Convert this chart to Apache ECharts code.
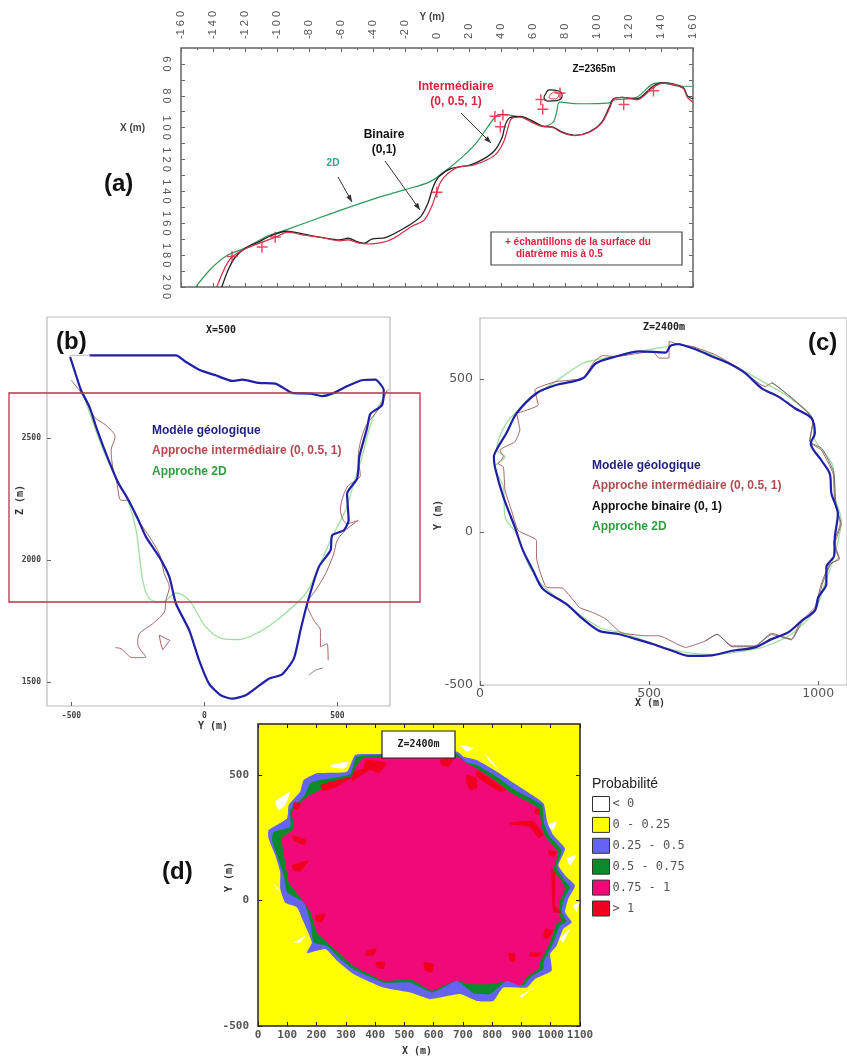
<!DOCTYPE html>
<html><head><meta charset="utf-8">
<style>html,body{margin:0;padding:0;background:#fff}#c{width:847px;height:1060px}</style>
<script src="https://cdn.jsdelivr.net/npm/echarts@6/dist/echarts.min.js"></script>
</head><body><div id="c"></div>
<script>
// Panel (a): Y (m), X (m)
const aBinaire=[[-134.5,200],[-130.4,189],[-125.9,181],[-119.7,175.6],[-111,171.5],[-104.3,168],[-94,165],[-84,166.7],[-72.6,168.8],[-61,170.4],[-55.5,169.4],[-50,171.5],[-45.4,172.5],[-40.8,170],[-31.7,168.8],[-20.4,163],[-10.2,155.8],[-5.7,147.5],[-2.3,137],[1.1,130.8],[9,125.6],[20.4,123.5],[29.5,119.4],[36.3,114],[40.8,105.8],[42.6,98.5],[45.4,93.8],[52,93],[59,95.4],[65.8,99],[72.6,99.6],[78,102.7],[86,104.8],[95,102.7],[103,96.5],[107.7,87],[110,82],[115.6,81],[124.7,82],[135,74],[140.6,71.7],[147.4,72.5],[154,75],[156.5,80],[160,82]];
const aBinaireLoop=[[68,78.8],[70.3,76.3],[76,77],[78.2,79.8],[74.8,83],[69.2,83.3],[66.9,80.8],[68,78.8]];
const aInter=[[-137.6,200],[-132.6,188],[-128,181],[-119.7,176],[-111,172.5],[-101,168.8],[-93,165.6],[-84,167.3],[-72.6,168.8],[-61,171],[-55.5,170.4],[-48.8,172.5],[-43,173],[-36.3,172.5],[-27,169.4],[-15.9,162],[-8,158],[-3.4,149.6],[0,140],[2.3,134],[6.8,128.8],[13.6,124.6],[22.7,123.5],[31.7,120],[37.4,116],[42,108],[44.2,100.6],[46.5,94.4],[52,93.3],[59,96.5],[65.8,99.2],[72.6,100],[78,103],[86,105],[95,103],[103,97],[108,87.5],[110.5,82],[116,81],[125,82.5],[135,75],[141,72],[148,73],[154,75.5],[156.5,81],[160,84]];
const aInterLoop=[[71,79],[74,77.5],[76,80],[73,82],[70,81],[71,79]];
const a2D=[[-150.8,200],[-141.7,189],[-131.5,180.4],[-120,175.6],[-106.6,168.3],[-94,164],[-65.8,153.8],[-38.5,144.4],[-20.4,139],[-4.5,134],[4.5,127.7],[15.9,118.3],[25,109],[36.3,93.3],[39.7,91.7],[52,93.3],[61.2,97],[66.9,99.2],[72.6,96.5],[74.8,90.2],[76.6,84],[88.4,85],[107.7,84.4],[111,82.5],[124.7,81],[135,72.5],[140.6,71.9],[152,74],[160,74]];
const aSamples=[[-128,181],[-109.3,175],[-101,168.8],[36.3,93],[41.3,92],[39.7,99.6],[0,140.6],[65,82.5],[77,78.3],[66.2,88.5],[116.8,85.6],[135.4,77]];
const aYTickLabels=[60,80,100,120,140,160,180,200];
const aYTicks=[60,70,80,90,100,110,120,130,140,150,160,170,180,190,200];

// Panel (b): Y (m), Z (m)
const bModel=[[-505,2833],[-489,2779],[-464,2697],[-432,2628],[-407,2546],[-370,2437],[-326,2321],[-289,2253],[-251,2171],[-220,2096],[-170,2014],[-132,1932],[-107,1822],[-57,1713],[-20,1590],[17,1495],[61,1447],[105,1433],[155,1447],[199,1481],[242,1515],[292,1533],[336,1597],[361,1713],[386,1822],[430,1973],[474,2041],[480,2102],[524,2123],[542,2164],[536,2273],[574,2335],[582,2423],[611,2540],[624,2601],[667,2635],[674,2697],[642,2740],[592,2738],[530,2710],[480,2683],[442,2673],[399,2683],[330,2686],[267,2724],[205,2727],[142,2740],[105,2735],[42,2758],[-20,2781],[-70,2813],[-107,2840],[-432,2840]];
const bModelGap=[[-432,2840],[-505,2840],[-505,2833]];
const bInterLeft=[[-501,2738],[-457,2676],[-414,2587],[-370,2553],[-336,2505],[-351,2451],[-345,2382],[-330,2321],[-314,2246],[-289,2246],[-257,2178],[-207,2096],[-170,2027],[-151,1945],[-132,1891],[-145,1836],[-151,1788],[-195,1740],[-245,1699],[-251,1658],[-220,1604],[-270,1601],[-314,1638],[-335,1642]];
const bInterLoop=[[-170,1693],[-130,1672],[-157,1634],[-164,1658],[-170,1693]];
const bInterRight=[[686,2697],[655,2621],[605,2546],[578,2423],[586,2348],[536,2300],[511,2205],[536,2150],[578,2164],[530,2123],[499,2082],[486,2027],[455,1945],[418,1877],[386,1822],[411,1754],[436,1713],[436,1645],[461,1658],[465,1590]];
const bInterArc=[[392,1529],[417,1549],[445,1559]];
const b2D=[[-457,2683],[-370,2423],[-289,2246],[-257,2123],[-232,1918],[-207,1843],[-157,1829],[-107,1866],[-57,1836],[5,1727],[67,1679],[130,1675],[205,1706],[280,1761],[380,1863],[430,1973],[480,2096],[530,2205],[561,2314],[592,2423],[630,2574],[692,2703]];
const bXTicks=[-500,0,500];
const bZTicks=[1500,2000,2500];

// Panel (c): X (m), Y (m)
const cModel=[[588,615],[637,598],[686,574],[735,552],[784,520],[833,470],[882,443],[931,405],[980,372],[990,323],[978,290],[1009,235],[1034,191],[1039,126],[1058,60],[1049,-16],[1047,-77],[1024,-115],[1024,-170],[1000,-213],[990,-257],[951,-290],[911,-328],[862,-350],[813,-377],[745,-388],[686,-403],[617,-405],[568,-388],[510,-366],[461,-350],[412,-334],[353,-323],[304,-284],[255,-235],[186,-186],[157,-126],[127,-60],[103,16],[69,115],[44,213],[41,246],[54,279],[78,323],[108,388],[167,454],[225,481],[304,503],[343,552],[402,574],[470,591],[549,587],[563,609],[588,615]];
const cInter=[[108,388],[118,334],[103,295],[59,268],[69,246],[54,224],[69,213],[74,137],[93,71],[113,5],[167,-27],[167,-82],[196,-180],[245,-184],[294,-246],[333,-263],[372,-284],[416,-328],[490,-339],[529,-339],[608,-377],[666,-356],[701,-334],[745,-372],[813,-372],[862,-331],[921,-350],[946,-295],[990,-246],[1009,-170],[1034,-104],[1063,-88],[1049,-38],[1068,27],[1049,93],[1044,191],[1009,268],[975,295],[985,366],[921,438],[862,487],[843,476],[764,536],[696,580],[627,607],[588,613],[559,624],[559,569],[529,569],[510,591],[402,574],[363,577],[338,558],[304,503],[225,492],[162,465],[172,416],[108,388]];
const cBinaire=[[666,-356],[701,-334],[745,-375],[813,-374],[862,-335],[921,-352],[950,-297],[995,-246],[1012,-170],[1036,-106],[1060,-85],[1045,-38],[1065,27],[1052,95],[1046,195],[1012,272],[975,297],[985,368],[921,440],[862,490]];
const c2D=[[588,615],[686,580],[764,536],[852,482],[911,443],[980,378],[990,302],[1044,213],[1049,115],[1068,38],[1049,-71],[1019,-170],[990,-257],[921,-333],[862,-366],[813,-383],[686,-400],[568,-384],[416,-328],[353,-312],[196,-186],[147,-115],[108,-5],[74,49],[69,148],[44,213],[74,246],[49,268],[78,356],[157,443],[216,487],[304,552],[343,563],[470,591],[563,609],[588,615]];
const cXTicks=[0,500,1000];
const cYTicks=[-500,0,500];

// Panel (d): X (m), Y (m) probability classes
const dBlue=[[[332,580],[406,583],[679,593],[702,573],[747,560],[816,513],[884,460],[975,387],[988,313],[1009,260],[1049,207],[1026,140],[1049,100],[1083,60],[1060,7],[1049,-47],[1072,-87],[1043,-113],[1020,-180],[998,-213],[1003,-280],[946,-313],[918,-347],[838,-347],[804,-400],[747,-400],[690,-373],[588,-393],[520,-367],[429,-347],[326,-293],[270,-240],[230,-193],[167,-209],[184,-167],[156,-87],[133,-27],[93,-9],[76,47],[76,113],[59,180],[36,247],[36,280],[99,327],[105,380],[144,433],[156,480],[201,507],[304,513]]];
const dGreen=[[[338,573],[679,583],[708,553],[747,540],[816,493],[878,440],[969,380],[977,307],[998,253],[1037,200],[1020,133],[1043,87],[1066,53],[1045,7],[1037,-47],[1054,-84],[1032,-100],[1009,-167],[975,-247],[975,-273],[929,-307],[907,-340],[850,-320],[793,-373],[736,-369],[679,-320],[634,-347],[594,-367],[520,-327],[429,-327],[326,-273],[281,-233],[235,-180],[190,-167],[179,-87],[156,-7],[99,33],[88,100],[65,180],[48,240],[53,273],[110,293],[110,360],[156,413],[179,467],[213,480],[315,503]]];
const dPink=[[[361,567],[690,567],[713,547],[747,527],[816,473],[867,427],[958,367],[969,293],[986,247],[1026,193],[1009,120],[1032,87],[1049,47],[1032,0],[1026,-47],[1037,-80],[1020,-93],[998,-167],[963,-247],[958,-273],[918,-307],[895,-340],[850,-320],[804,-333],[725,-333],[679,-320],[634,-340],[594,-360],[520,-313],[429,-320],[326,-260],[281,-213],[235,-167],[201,-127],[179,-47],[139,20],[105,73],[93,153],[82,247],[122,287],[116,353],[167,413],[213,440],[315,487],[338,540]]];
const dRed=[
[[366,560],[440,547],[412,507],[383,520],[338,487],[321,473],[326,513],[361,527]],
[[713,500],[747,487],[747,447],[725,440],[711,473]],
[[747,520],[849,440],[826,433],[747,493]],
[[122,391],[147,387],[136,360],[120,367]],
[[213,460],[321,493],[270,453],[224,436]],
[[861,311],[941,316],[975,260],[958,249],[929,293],[861,303]],
[[946,367],[963,360],[958,340],[946,347]],
[[992,200],[1020,193],[1009,173],[995,180]],
[[1003,127],[1015,113],[1015,-20],[1037,-47],[1009,-47],[1003,73]],
[[981,-113],[1009,-120],[989,-153],[975,-147]],
[[929,-207],[969,-209],[958,-223],[929,-223]],
[[855,-209],[878,-213],[878,-247],[861,-240]],
[[566,-247],[600,-253],[594,-287],[571,-280]],
[[401,-247],[435,-247],[429,-273],[406,-267]],
[[372,-200],[406,-191],[395,-217],[366,-220]],
[[196,-60],[230,-53],[218,-87],[199,-84]],
[[116,260],[167,240],[156,220],[122,240]],
[[116,140],[173,160],[144,113],[122,120]],
[[622,560],[668,567],[651,533],[628,540]]];
const dWhite=[
[[59,393],[110,433],[93,380],[71,360]],
[[247,540],[309,553],[298,527],[253,529]],
[[690,620],[736,607],[713,593]],
[[776,587],[827,513],[787,560]],
[[958,440],[998,393],[975,420]],
[[986,300],[1020,313],[1009,280]],
[[1054,167],[1089,180],[1066,140]],
[[1077,-20],[1098,-7],[1089,-47]],
[[1032,-153],[1066,-113],[1043,-167]],
[[895,-380],[975,-327],[929,-360],[901,-387]],
[[122,-167],[162,-140],[144,-167]],
[[53,67],[82,33],[65,47]]];
const dYTicks=[-500,0,500];
const dClasses=['< 0','0 - 0.25','0.25 - 0.5','0.5 - 0.75','0.75 - 1','> 1'];
const dColors=['#ffffff','#ffff00','#6464f0','#0a8a2a','#f00a78','#f0001e'];

const MONO='"DejaVu Sans Mono",monospace', SANS='"Liberation Sans",Arial,sans-serif', DJ='"DejaVu Sans",sans-serif';
const NAVY='#23237f',BROWN='#b04a50',GREEN2='#2f9e3f';
const plain=v=>String(v);

function line(name,data,color,width,xi,z,smooth){
  return {type:'line',name,data,xAxisIndex:xi,yAxisIndex:xi,showSymbol:false,symbol:'none',
    smooth:smooth===undefined?0.3:smooth,lineStyle:{color,width},z:z||2,silent:true,clip:true};
}
function polys(name,color,list,z){
  return {type:'custom',name,xAxisIndex:3,yAxisIndex:3,clip:true,z,silent:true,
    itemStyle:{color},data:list.map((_,i)=>[i]),
    renderItem:(p,api)=>({type:'polygon',shape:{points:list[p.dataIndex].map(pt=>api.coord(pt)),smooth:0.15},style:{fill:color}})};
}
function axisBase(o,tickColor){return Object.assign({type:'value',splitLine:{show:false},
  axisLine:{show:false,onZero:false},axisTick:{show:true,inside:true,length:4,lineStyle:{color:tickColor||'#666'}},
  axisLabel:{color:'#444',fontFamily:MONO,fontSize:9,fontWeight:'bold',formatter:plain}},o);}
function custom(o,ticks,labels,extra,tickColor){
  const a=axisBase(o,tickColor);
  a.axisTick.customValues=ticks;
  a.axisLabel=Object.assign(a.axisLabel,{customValues:labels||ticks},extra||{});
  return a;
}
const grids=[
 {left:181,top:48,width:512,height:239,show:true,borderColor:'#666',borderWidth:1.5,backgroundColor:'#fff'},
 {left:47,top:317,width:343,height:389,show:true,borderColor:'#bbb',borderWidth:1.2,backgroundColor:'#fff'},
 {left:480,top:318,width:370,height:367,show:true,borderColor:'#bbb',borderWidth:1.2,backgroundColor:'#fff'},
 {left:258,top:724,width:322,height:302,show:true,borderColor:'#222',borderWidth:1.5,backgroundColor:'#ffff00'}];
const spaced=v=>String(v).split('').join(' ').replace('- ','-');
const xAxes=[
 axisBase({gridIndex:0,min:-160,max:160,interval:20,position:'top',
   minorTick:{show:true,splitNumber:2,length:2,lineStyle:{color:'#666'}},
   axisLabel:{rotate:-90,color:'#555',fontFamily:SANS,fontSize:11,margin:9,interval:0,showMinLabel:true,showMaxLabel:true,formatter:spaced}}),
 custom({gridIndex:1,min:-592,max:697.5},bXTicks,bXTicks,{fontSize:8,margin:6}),
 custom({gridIndex:2,min:0,max:1085},cXTicks,cXTicks,{fontSize:12.5,fontWeight:'normal',margin:2,color:'#555',fontFamily:DJ}),
 axisBase({gridIndex:3,min:0,max:1100,interval:100,axisTick:{show:true,inside:true,length:4,lineStyle:{color:'#222'}},
   axisLabel:{color:'#555',fontFamily:MONO,fontSize:11,margin:4,fontWeight:'bold',interval:0,showMinLabel:true,showMaxLabel:true,hideOverlap:false,formatter:plain}}),
 axisBase({gridIndex:0,min:-160,max:160,interval:20,position:'bottom',axisLabel:{show:false},
   minorTick:{show:true,splitNumber:2,length:2,lineStyle:{color:'#666'}}}),
 axisBase({gridIndex:3,min:0,max:1100,interval:100,position:'top',axisLabel:{show:false},axisTick:{show:true,inside:true,length:4,lineStyle:{color:'#222'}}})];
const yAxes=[
 custom({gridIndex:0,min:50,max:200,inverse:true},aYTicks,aYTickLabels,{rotate:-90,color:'#555',fontFamily:SANS,fontSize:11,margin:9,fontWeight:'normal',formatter:spaced}),
 custom({gridIndex:1,min:1403,max:2997},bZTicks,bZTicks,{fontSize:8,margin:6}),
 custom({gridIndex:2,min:-500,max:700},cYTicks,cYTicks,{fontSize:12.5,fontWeight:'normal',margin:7,color:'#555',fontFamily:DJ}),
 custom({gridIndex:3,min:-500,max:703},dYTicks,dYTicks,{fontSize:11,margin:9,color:'#555'},'#222'),
 custom({gridIndex:0,min:50,max:200,inverse:true,position:'right'},aYTicks,aYTicks,{show:false}),
 custom({gridIndex:3,min:-500,max:703,position:'right'},dYTicks,dYTicks,{show:false},'#222')];

const series=[
 line('2D',a2D,'#2e9a5a',1.2,0,2),
 line('Binaire',aBinaire,'#222',1.3,0,3),
 line('Binaire boucle',aBinaireLoop,'#222',1.2,0,3,0.5),
 line('Intermédiaire',aInter,'#d0304a',1.2,0,4),
 line('Intermédiaire boucle',aInterLoop,'#d0304a',1,0,4,0.5),
 {type:'scatter',name:'échantillons',xAxisIndex:0,yAxisIndex:0,data:aSamples,symbolSize:11,z:5,silent:true,
  symbol:'path://M5 0H6.6V5H12V6.6H6.6V12H5V6.6H0V5H5Z',itemStyle:{color:'#e0203f'}},

 line('b 2D',b2D,'#9fe09f',1.3,1,2),
 line('b inter g',bInterLeft,'#a8666a',1,1,3),
 line('b inter boucle',bInterLoop,'#a8666a',1,1,3,0),
 line('b inter d',bInterRight,'#a8666a',1,1,3),
 line('b inter arc',bInterArc,'#777',1,1,3),
 line('b modèle',bModel,'#1f1fa8',2.2,1,4,0.2),
 line('b modèle haut',bModelGap,'#bbb',1,1,3,0),

 line('c 2D',c2D,'#9fe09f',1.3,2,2),
 line('c inter',cInter,'#a8666a',1,2,3,0.15),
 line('c binaire',cBinaire,'#666',0.9,2,3,0.15),
 line('c modèle',cModel,'#1f1fa8',2.2,2,4,0.3),

 polys(dClasses[0],dColors[0],dWhite,1),
 {type:'custom',name:dClasses[1],xAxisIndex:3,yAxisIndex:3,itemStyle:{color:dColors[1]},data:[],renderItem:()=>null,silent:true},
 polys(dClasses[2],dColors[2],dBlue,2),
 polys(dClasses[3],dColors[3],dGreen,3),
 polys(dClasses[4],dColors[4],dPink,4),
 polys(dClasses[5],dColors[5],dRed,5)];

const G=[];
function T(x,y,text,font,color,align,rot){
  G.push({type:'text',x,y,rotation:rot||0,z:100,silent:true,style:{text,font,fill:color,align:align||'left',verticalAlign:'middle'}});
}
function arrow(x1,y1,x2,y2){
  G.push({type:'line',z:100,silent:true,shape:{x1,y1,x2,y2},style:{stroke:'#333',lineWidth:1}});
  const a=Math.atan2(y2-y1,x2-x1),L=7,W=2.6,c=Math.cos(a),s=Math.sin(a);
  G.push({type:'polygon',z:100,silent:true,shape:{points:[[x2,y2],[x2-L*c+W*s,y2-L*s-W*c],[x2-L*c-W*s,y2-L*s+W*c]]},style:{fill:'#333'}});
}
function R(x,y,w,h,stroke,lw,fill){
  G.push({type:'rect',z:99,silent:true,shape:{x,y,width:w,height:h},style:{stroke,lineWidth:lw,fill:fill||'transparent'}});
}
const PL='bold 24px '+SANS, B12='bold 12px '+SANS, B10='bold 10px '+SANS, MB='bold 10px '+MONO;
T(104,184,'(a)',PL,'#111');T(56,342,'(b)',PL,'#111');T(808,343,'(c)',PL,'#111');T(162,872,'(d)',PL,'#111');
T(432,17,'Y (m)','bold 10px '+SANS,'#444','center');
T(120,128,'X (m)','bold 10px '+SANS,'#444');
T(456,87,'Intermédiaire',B12,'#e0203f','center');T(456,102,'(0, 0.5, 1)',B12,'#e0203f','center');
T(384,135,'Binaire',B12,'#111','center');T(384,150,'(0,1)',B12,'#111','center');
T(333,163,'2D',B10,'#25a88a','center');
T(594,69,'Z=2365m',B10,'#111','center');
arrow(338,177,352,202);arrow(385,161,420,210);arrow(461,113,491,143);
R(491,232,191,33,'#444',1.2,'#fff');
T(505,242,'+ échantillons de la surface du',B10,'#e0203f');
T(516,254,'diatrème mis à 0.5',B10,'#e0203f');
R(9,393,411,209,'#c0304a',1.3);
T(221,330,'X=500',MB,'#222','center');
T(152,431,'Modèle géologique',B12,NAVY);
T(152,451,'Approche intermédiaire (0, 0.5, 1)',B12,BROWN);
T(152,472,'Approche 2D',B12,GREEN2);
T(213,726,'Y (m)',MB,'#333','center');
T(20,500,'Z (m)',MB,'#333','center',Math.PI/2);
T(664,327,'Z=2400m',MB,'#222','center');
T(592,466,'Modèle géologique',B12,NAVY);
T(592,486,'Approche intermédiaire (0, 0.5, 1)',B12,BROWN);
T(592,507,'Approche binaire (0, 1)',B12,'#111');
T(592,527,'Approche 2D',B12,GREEN2);
T(650,703,'X (m)',MB,'#333','center');
T(438,515,'Y (m)',MB,'#333','center',Math.PI/2);
R(382,731,73,27,'#222',1.2,'#fff');
T(418.5,744,'Z=2400m',MB,'#222','center');
T(417,1051,'X (m)',MB,'#333','center');
T(229,877,'Y (m)',MB,'#333','center',Math.PI/2);
T(592,784,'Probabilité','14px '+SANS,'#222');

const option={animation:false,backgroundColor:'#fff',grid:grids,xAxis:xAxes,yAxis:yAxes,series,
 graphic:{elements:G},
 legend:{show:true,orient:'vertical',left:587,top:791,itemWidth:17,itemHeight:15,itemGap:4.9,selectedMode:false,
   icon:'rect',itemStyle:{borderColor:'#333',borderWidth:1},
   textStyle:{fontFamily:MONO,fontSize:12,color:'#555',padding:[0,0,0,-2]},
   data:dClasses.map((n,i)=>({name:n,icon:'rect',itemStyle:{color:dColors[i],borderColor:'#333',borderWidth:1}}))}};
echarts.init(document.getElementById('c'),null,{renderer:'canvas'}).setOption(option);
</script></body></html>
